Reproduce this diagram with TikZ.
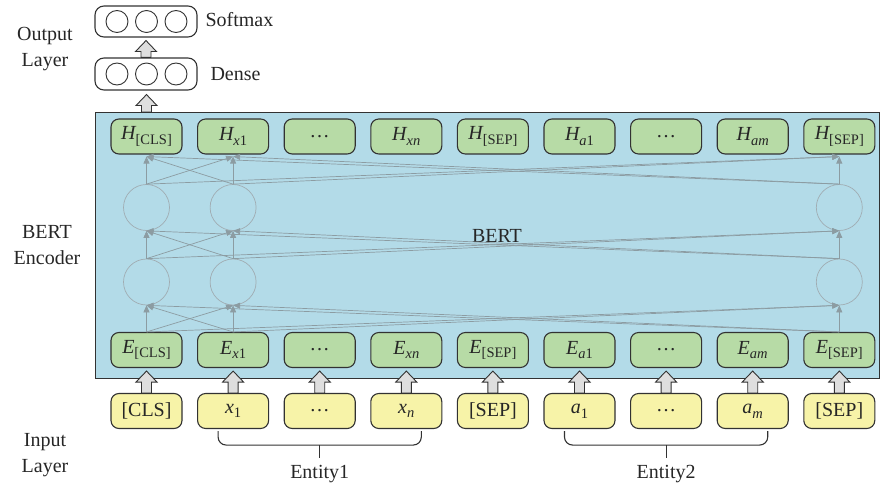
\documentclass[tikz,border=0pt]{standalone}
\usepackage{fontspec}
\setmainfont{Liberation Serif}
\usetikzlibrary{arrows.meta,calc}
\definecolor{encblue}{RGB}{179,219,232}
\definecolor{boxgreen}{RGB}{183,219,166}
\definecolor{boxyellow}{RGB}{247,243,168}
\definecolor{edgedark}{RGB}{50,50,50}
\definecolor{arrowfill}{RGB}{222,222,222}
\definecolor{wire}{RGB}{140,156,162}
\definecolor{neuron}{RGB}{160,172,178}
\newcommand{\tsub}[1]{\raisebox{-0.5ex}{\fontsize{14.5}{15}\selectfont #1}}
\newcommand{\iv}[1]{{\itshape #1}}
\tikzset{
  lbl/.style={font=\fontsize{20}{26}\selectfont, text=black!85, align=center},
  tokbox/.style={draw=edgedark, line width=1.1pt, rounded corners=8pt, minimum width=71pt, minimum height=35pt, inner sep=0pt, font=\fontsize{20}{22}\selectfont, text=black!85},
  hbox/.style={tokbox, fill=boxgreen},
  ebox/.style={tokbox, fill=boxgreen},
  ibox/.style={tokbox, fill=boxyellow},
  neur/.style={circle, draw=neuron, line width=0.7pt, minimum size=46pt, inner sep=0pt},
  outneur/.style={circle, draw=edgedark, line width=0.9pt, minimum size=22pt, inner sep=0pt},
  outbox/.style={draw=edgedark, line width=1.1pt, rounded corners=9pt, minimum width=102pt, inner sep=0pt},
  conn/.style={draw=wire, line width=0.7pt, -{Triangle[length=7pt,width=6pt]}},
  fatarrow/.style={draw=edgedark, fill=arrowfill, line width=0.9pt, line join=miter,
    to path={let \p1=(\tikztostart), \p2=(\tikztotarget) in
      (\x1-5pt,\y1) -- (\x1-5pt,\y2-11pt) -- (\x1-10.5pt,\y2-11pt) -- (\x1,\y2)
      -- (\x1+10.5pt,\y2-11pt) -- (\x1+5pt,\y2-11pt) -- (\x1+5pt,\y1) -- cycle}},
  bracket/.style={draw=edgedark, line width=1.1pt, rounded corners=8pt},
}
\begin{document}
\begin{tikzpicture}[x=1pt,y=-1pt]
\useasboundingbox (0,0) rectangle (884,489);
% encoder background
\node[draw=edgedark, line width=1.1pt, fill=encblue, minimum width=784pt, minimum height=266pt, inner sep=0pt, anchor=north west] (enc) at (95,112) {};
\node[lbl] (bertlbl) at (497,236) {BERT};
% token columns
\node[hbox] (H1) at (146.5,136.5) {\iv{H}\tsub{[CLS]}};
\node[hbox] (H2) at (233.1,136.5) {\iv{H}\tsub{\iv{x}1}};
\node[hbox] (H3) at (319.7,136.5) {…};
\node[hbox] (H4) at (406.3,136.5) {\iv{H}\tsub{\iv{xn}}};
\node[hbox] (H5) at (492.9,136.5) {\iv{H}\tsub{[SEP]}};
\node[hbox] (H6) at (579.5,136.5) {\iv{H}\tsub{\iv{a}1}};
\node[hbox] (H7) at (666.1,136.5) {…};
\node[hbox] (H8) at (752.7,136.5) {\iv{H}\tsub{\iv{am}}};
\node[hbox] (H9) at (839.3,136.5) {\iv{H}\tsub{[SEP]}};
\node[ebox] (E1) at (146.5,350) {\iv{E}\tsub{[CLS]}};
\node[ebox] (E2) at (233.1,350) {\iv{E}\tsub{\iv{x}1}};
\node[ebox] (E3) at (319.7,350) {…};
\node[ebox] (E4) at (406.3,350) {\iv{E}\tsub{\iv{xn}}};
\node[ebox] (E5) at (492.9,350) {\iv{E}\tsub{[SEP]}};
\node[ebox] (E6) at (579.5,350) {\iv{E}\tsub{\iv{a}1}};
\node[ebox] (E7) at (666.1,350) {…};
\node[ebox] (E8) at (752.7,350) {\iv{E}\tsub{\iv{am}}};
\node[ebox] (E9) at (839.3,350) {\iv{E}\tsub{[SEP]}};
\node[ibox] (I1) at (146.5,411) {[CLS]};
\node[ibox] (I2) at (233.1,411) {\iv{x}\tsub{1}};
\node[ibox] (I3) at (319.7,411) {…};
\node[ibox] (I4) at (406.3,411) {\iv{x}\tsub{\iv{n}}};
\node[ibox] (I5) at (492.9,411) {[SEP]};
\node[ibox] (I6) at (579.5,411) {\iv{a}\tsub{1}};
\node[ibox] (I7) at (666.1,411) {…};
\node[ibox] (I8) at (752.7,411) {\iv{a}\tsub{\iv{m}}};
\node[ibox] (I9) at (839.3,411) {[SEP]};
% neurons
\node[neur] (L1) at (146.5,282) {};
\node[neur] (L2) at (233.1,282) {};
\node[neur] (L9) at (839.3,282) {};
\node[neur] (U1) at (146.5,207.5) {};
\node[neur] (U2) at (233.1,207.5) {};
\node[neur] (U9) at (839.3,207.5) {};
% connections
\foreach \s in {1,2,9}{
  \foreach \t in {1,2,9}{
    \draw[conn] (E\s.north) -- (L\t.south);
    \draw[conn] (L\s.north) -- (U\t.south);
    \draw[conn] (U\s.north) -- ([yshift=-2pt]H\t.south);
  }
}
% input block arrows
\foreach \i in {1,...,9}{
  \draw[fatarrow] (I\i.north) to ([yshift=-3pt]E\i.south);
}
% output layer
\node[outbox, minimum height=32pt] (dense) at (146,74) {};
\node[outbox, minimum height=31pt] (soft) at (146,21.5) {};
\node[outneur] (d1) at (117,74) {};
\node[outneur] (d2) at (146.5,74) {};
\node[outneur] (d3) at (176,74) {};
\node[outneur] (s1) at (117,21.5) {};
\node[outneur] (s2) at (146.5,21.5) {};
\node[outneur] (s3) at (176,21.5) {};
\draw[fatarrow] (H1 |- enc.north) to ([yshift=-4pt]dense.south);
\draw[fatarrow] (dense.north) to ([yshift=-3pt]soft.south);
\node[lbl, anchor=west] (softlbl) at (202,20) {Softmax};
\node[lbl, anchor=west] (denselbl) at (207,74) {Dense};
% left labels
\node[lbl] (outlbl) at (45,49) {Output\\Layer};
\node[lbl] (enclbl) at (47,245) {BERT\\Encoder};
\node[lbl] (inlbl) at (45,455) {Input\\Layer};
% entity brackets
\draw[bracket] ([xshift=-15pt,yshift=-2pt]I2.south) -- ++(0,14) -| ([xshift=15pt,yshift=-2pt]I4.south);
\draw[edgedark, line width=1.1pt] ([yshift=-16pt]I3.south) -- ++(0,13);
\node[lbl] (ent1) at ([yshift=-45pt]I3.south) {Entity1};
\draw[bracket] ([xshift=-15pt,yshift=-2pt]I6.south) -- ++(0,14) -| ([xshift=15pt,yshift=-2pt]I8.south);
\draw[edgedark, line width=1.1pt] ([yshift=-16pt]I7.south) -- ++(0,13);
\node[lbl] (ent2) at ([yshift=-45pt]I7.south) {Entity2};
\end{tikzpicture}
\end{document}
